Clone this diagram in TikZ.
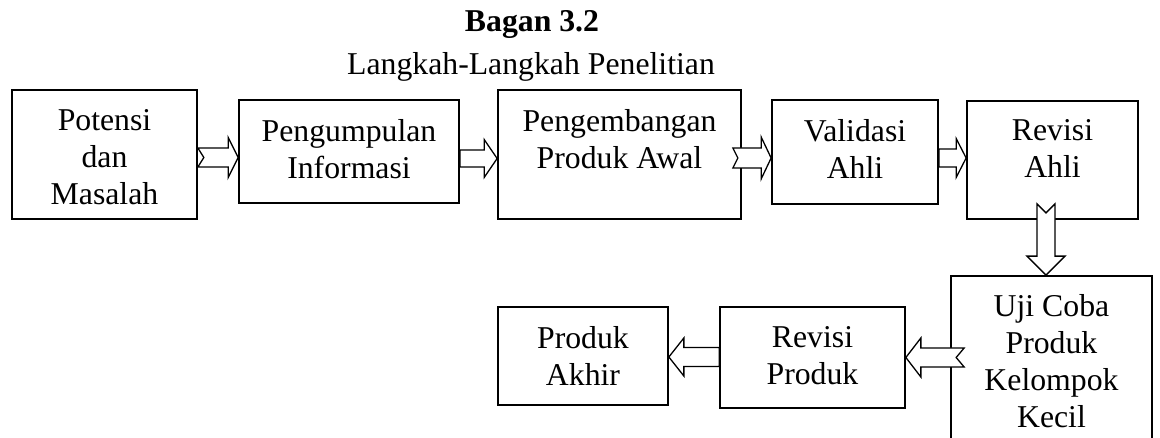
\documentclass[tikz,border=0pt]{standalone}
\usepackage{fontspec}
\setmainfont{Liberation Serif}
\usetikzlibrary{calc}
\tikzset{
  x=1pt, y=-1pt,
  box/.style={draw, line width=1.7pt, rectangle, inner sep=0pt},
  txt/.style={anchor=north, inner sep=0pt, align=center, font=\fontsize{31.75}{37}\selectfont,
    execute at begin node={\rule{0pt}{25pt}}},
  blockarrow/.style={draw, fill=white, line width=1.3pt, line join=miter}
}
% horizontal block arrow: #1 tail, #2 tip, #3 shaft half width, #4 head half width,
% #5 head length (signed), #6 tail notch depth (signed)
\newcommand\harrow[6]{%
  \draw[blockarrow] let \p1=#1, \p2=#2 in
    ({\x1},{\y2+#3pt}) -- ({\x2-(#5pt)},{\y2+#3pt}) -- ({\x2-(#5pt)},{\y2+#4pt}) -- ({\x2},{\y2})
    -- ({\x2-(#5pt)},{\y2-#4pt}) -- ({\x2-(#5pt)},{\y2-#3pt}) -- ({\x1},{\y2-#3pt}) -- ({\x1+(#6pt)},{\y2}) -- cycle;}
% vertical (downward) block arrow
\newcommand\varrow[6]{%
  \draw[blockarrow] let \p1=#1, \p2=#2 in
    ({\x2-#3pt},{\y1}) -- ({\x2-#3pt},{\y2+#5pt}) -- ({\x2-#4pt},{\y2+#5pt}) -- ({\x2},{\y2})
    -- ({\x2+#4pt},{\y2+#5pt}) -- ({\x2+#3pt},{\y2+#5pt}) -- ({\x2+#3pt},{\y1}) -- ({\x2},{\y1-#6pt}) -- cycle;}
\begin{document}
\begin{tikzpicture}
\useasboundingbox (0,0) rectangle (1160,438);
\clip (0,0) rectangle (1160,438);

% title
\node[anchor=base, inner sep=0pt, font=\fontsize{31.75}{37}\selectfont\bfseries] (title) at (532,32) {Bagan 3.2};
\node[anchor=base, inner sep=0pt, font=\fontsize{31.75}{37}\selectfont] (subtitle) at (531,75) {Langkah-Langkah Penelitian};

% boxes
\node[box, minimum width=185pt, minimum height=129pt] (pot)  at (104.5,154.5) {};
\node[box, minimum width=220pt, minimum height=103pt] (pum)  at (349,151.5) {};
\node[box, minimum width=243pt, minimum height=129pt] (peng) at (619.5,154.5) {};
\node[box, minimum width=166pt, minimum height=104pt] (val)  at (855,152) {};
\node[box, minimum width=171pt, minimum height=118pt] (ra)   at (1052.5,160) {};
\node[box, minimum width=201pt, minimum height=174pt] (uji)  at (1051.5,363) {};
\node[box, minimum width=185pt, minimum height=101pt] (rp)   at (812.5,357.5) {};
\node[box, minimum width=170pt, minimum height=98pt]  (pa)   at (583,356) {};

% texts
\node[txt] (tpot)  at ($(pot.north)+(0,20)$)  {Potensi\\dan\\Masalah};
\node[txt] (tpum)  at ($(pum.north)+(0,20)$)  {Pengumpulan\\Informasi};
\node[txt] (tpeng) at ($(peng.north)+(0,20)$) {Pengembangan\\Produk Awal};
\node[txt] (tval)  at ($(val.north)+(0,20)$)  {Validasi\\Ahli};
\node[txt] (tra)   at ($(ra.north)+(0,19)$)   {Revisi\\Ahli};
\node[txt] (tuji)  at ($(uji.north)+(0,19)$)  {Uji Coba\\Produk\\Kelompok\\Kecil};
\node[txt] (trp)   at ($(rp.north)+(0,20)$)   {Revisi\\Produk};
\node[txt] (tpa)   at ($(pa.north)+(0,20)$)   {Produk\\Akhir};

% arrows
\harrow{(pot.east |- 0,157.5)}{(pum.west |- 0,157.5)}{9.5}{20}{10}{6}
\harrow{(pum.east |- 0,158.5)}{(peng.west |- 0,158.5)}{8.5}{19}{13}{0}
\harrow{($(peng.east |- 0,158)+(-9,0)$)}{(val.west |- 0,158)}{10}{21}{10}{5}
\harrow{(val.east |- 0,158)}{(ra.west |- 0,158)}{9}{19.5}{10}{0}
\varrow{($(ra.south -| 1046,0)+(0,-16)$)}{(uji.north -| 1046,0)}{9}{19}{19}{9}
\harrow{($(uji.west |- 0,357.5)+(14,0)$)}{(rp.east |- 0,357.5)}{9.5}{19.5}{-15}{-8}
\harrow{(rp.west |- 0,357)}{(pa.east |- 0,357)}{9.5}{19}{-15}{0}
\end{tikzpicture}
\end{document}
